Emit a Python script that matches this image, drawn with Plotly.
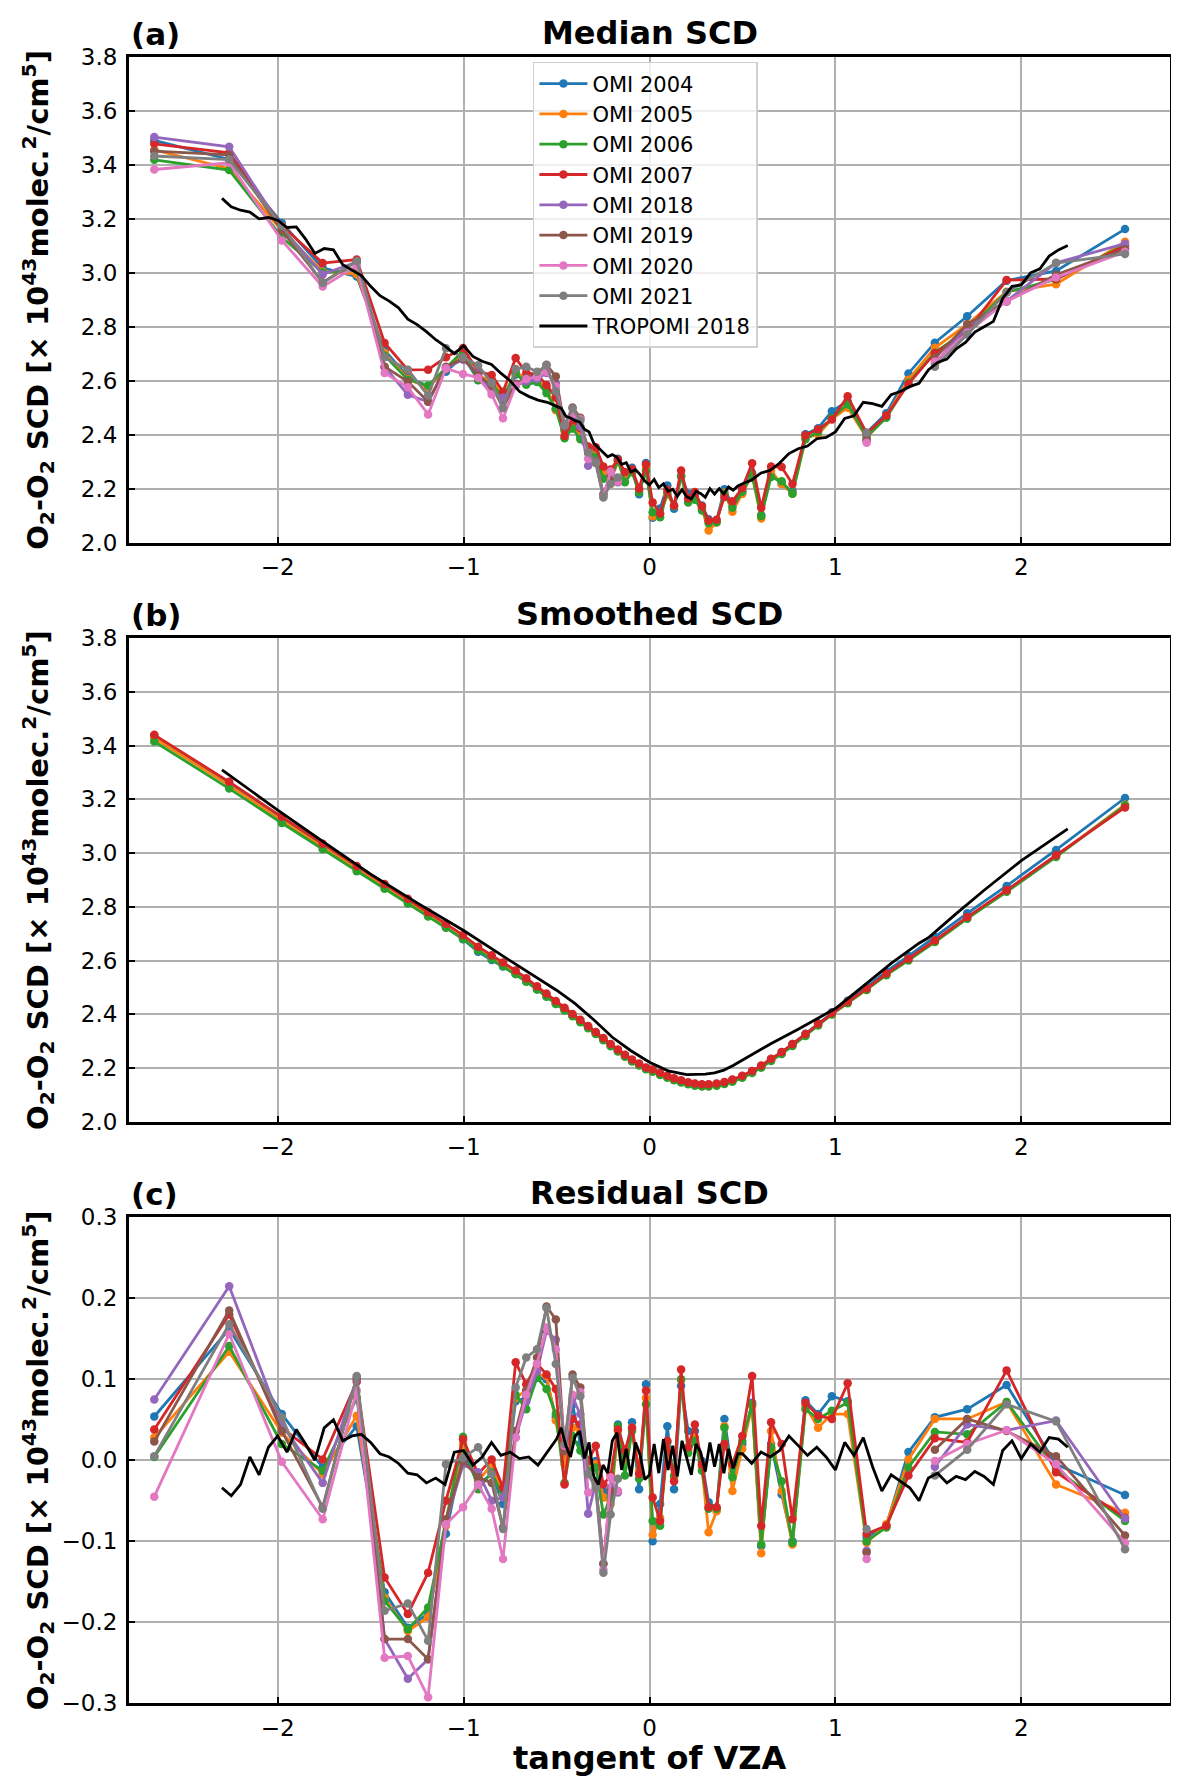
import plotly.graph_objects as go

# tangent of VZA for the 60 OMI cross-track rows
omi_x = [-2.664, -2.261, -1.978, -1.758, -1.575, -1.425, -1.300, -1.191, -1.095, -1.003,
         -0.922, -0.849, -0.788, -0.720, -0.663, -0.605, -0.554, -0.504, -0.457, -0.414,
         -0.372, -0.330, -0.289, -0.248, -0.209, -0.170, -0.132, -0.094, -0.056, -0.019,
         0.017, 0.057, 0.096, 0.132, 0.170, 0.208, 0.244, 0.282, 0.318, 0.361,
         0.403, 0.446, 0.499, 0.552, 0.601, 0.654, 0.711, 0.769, 0.839, 0.907,
         0.981, 1.066, 1.168, 1.274, 1.393, 1.535, 1.709, 1.921, 2.187, 2.558]

N = None  # rows lost to the row anomaly

# (a) median SCD
med_2004 = [3.491, 3.420, 3.185, 3.018, 2.986, 2.713, 2.613, 2.579, 2.633, 2.692,
            2.603, 2.585, 2.524, 2.623, 2.600, 2.596, 2.568, 2.494, 2.416, 2.464,
            2.393, 2.342, 2.329, 2.270, 2.245, 2.311, 2.255, 2.277, 2.179, 2.295,
            2.092, 2.126, 2.212, 2.125, 2.245, 2.182, 2.177, 2.137, 2.086, 2.081,
            2.198, 2.139, 2.190, 2.259, 2.102, 2.253, 2.217, 2.190, 2.402, 2.424,
            2.487, 2.524, 2.407, 2.479, 2.627, 2.741, 2.839, 2.971, 3.007, 3.162]
med_2005 = [3.456, 3.386, 3.156, 3.005, 2.995, 2.703, 2.607, 2.574, 2.644, 2.703,
            2.615, 2.604, 2.541, 2.630, 2.611, 2.602, 2.573, 2.491, 2.413, 2.435,
            2.409, 2.346, 2.324, 2.260, 2.230, 2.300, 2.244, 2.267, 2.199, 2.275,
            2.097, 2.106, 2.178, 2.136, 2.248, 2.154, 2.165, 2.125, 2.045, 2.074,
            2.185, 2.114, 2.180, 2.251, 2.089, 2.265, 2.217, 2.181, 2.389, 2.401,
            2.458, 2.500, 2.390, 2.469, 2.604, 2.722, 2.809, 2.930, 2.958, 3.115]
med_2006 = [3.419, 3.381, 3.132, 3.001, 3.010, 2.693, 2.604, 2.582, 2.647, 2.710,
            2.602, 2.591, 2.534, 2.631, 2.585, 2.595, 2.554, 2.496, 2.387, 2.423,
            2.383, 2.336, 2.318, 2.237, 2.236, 2.304, 2.224, 2.261, 2.187, 2.265,
            2.112, 2.094, 2.186, 2.136, 2.247, 2.149, 2.159, 2.119, 2.072, 2.075,
            2.181, 2.129, 2.188, 2.251, 2.098, 2.243, 2.227, 2.181, 2.383, 2.410,
            2.461, 2.513, 2.391, 2.463, 2.592, 2.704, 2.788, 2.928, 2.975, 3.103]
med_2007 = [3.478, 3.445, 3.175, 3.036, 3.049, 2.740, 2.640, 2.641, 2.687, 2.721,
            2.635, 2.621, 2.559, 2.684, 2.629, 2.624, 2.584, 2.538, 2.395, 2.453,
            2.424, 2.356, 2.353, 2.282, 2.271, 2.308, 2.262, 2.272, 2.200, 2.289,
            2.149, 2.108, 2.196, 2.137, 2.267, 2.164, 2.187, 2.135, 2.082, 2.085,
            2.169, 2.153, 2.202, 2.294, 2.129, 2.282, 2.280, 2.217, 2.398, 2.420,
            2.456, 2.542, 2.405, 2.471, 2.588, 2.702, 2.784, 2.973, 2.977, 3.099]
med_2018 = [3.503, 3.467, 3.166, 2.994, 3.040, 2.652, 2.548, 2.522, 2.648, 2.678,
            2.626, 2.559, 2.537, 2.581, 2.598, 2.606, 2.629, 2.591, 2.430, 2.472,
            2.430, 2.285, 2.301, 2.178, 2.250, 2.224, N, N, N, N,
            N, N, N, N, N, N, N, N, N, N,
            N, N, N, N, N, N, N, N, N, N,
            N, N, 2.380, N, N, 2.663, 2.802, 2.895, 3.037, 3.108]
med_2019 = [3.451, 3.437, 3.158, 2.964, 3.042, 2.652, 2.597, 2.522, 2.652, 2.682,
            2.620, 2.581, 2.500, 2.589, 2.611, 2.623, 2.659, 2.616, 2.430, 2.501,
            2.463, 2.334, 2.299, 2.178, 2.246, 2.226, N, N, N, N,
            N, N, N, N, N, N, N, N, N, N,
            N, N, N, N, N, N, N, N, N, N,
            N, N, 2.378, N, N, 2.684, 2.809, 2.894, 2.993, 3.087]
med_2020 = [3.383, 3.408, 3.120, 2.949, 3.026, 2.629, 2.576, 2.475, 2.646, 2.625,
            2.611, 2.549, 2.461, 2.581, 2.606, 2.615, 2.633, 2.579, 2.436, 2.476,
            2.457, 2.311, 2.295, 2.171, 2.263, 2.226, N, N, N, N,
            N, N, N, N, N, N, N, N, N, N,
            N, N, N, N, N, N, N, N, N, N,
            N, N, 2.370, N, N, 2.670, 2.778, 2.895, 2.983, 3.078]
med_2021 = [3.433, 3.420, 3.175, 2.962, 3.044, 2.687, 2.641, 2.545, 2.720, 2.686,
            2.657, 2.592, 2.498, 2.643, 2.652, 2.633, 2.657, 2.561, 2.438, 2.497,
            2.452, 2.334, 2.295, 2.167, 2.217, 2.241, N, N, N, N,
            N, N, N, N, N, N, N, N, N, N,
            N, N, N, N, N, N, N, N, N, N,
            N, N, 2.407, N, N, 2.652, 2.771, 2.927, 3.036, 3.070]

# (b) smoothed SCD
smo_2004 = [3.437, 3.258, 3.128, 3.027, 2.944, 2.876, 2.820, 2.769, 2.724, 2.680,
            2.633, 2.602, 2.578, 2.550, 2.523, 2.494, 2.468, 2.441, 2.417, 2.395,
            2.373, 2.351, 2.330, 2.308, 2.287, 2.267, 2.248, 2.230, 2.215, 2.201,
            2.192, 2.180, 2.170, 2.161, 2.153, 2.146, 2.141, 2.138, 2.138, 2.141,
            2.147, 2.156, 2.170, 2.188, 2.208, 2.233, 2.259, 2.290, 2.328, 2.367,
            2.408, 2.451, 2.502, 2.560, 2.617, 2.688, 2.776, 2.878, 3.012, 3.205]
smo_2005 = [3.428, 3.252, 3.122, 3.022, 2.940, 2.873, 2.818, 2.768, 2.725, 2.683,
            2.641, 2.609, 2.583, 2.553, 2.525, 2.496, 2.469, 2.442, 2.418, 2.395,
            2.373, 2.351, 2.329, 2.306, 2.284, 2.264, 2.245, 2.227, 2.212, 2.198,
            2.189, 2.177, 2.166, 2.157, 2.149, 2.142, 2.137, 2.134, 2.134, 2.137,
            2.143, 2.152, 2.166, 2.184, 2.204, 2.229, 2.255, 2.285, 2.322, 2.361,
            2.401, 2.443, 2.492, 2.548, 2.603, 2.671, 2.758, 2.858, 2.988, 3.180]
smo_2006 = [3.415, 3.240, 3.112, 3.014, 2.933, 2.867, 2.813, 2.764, 2.722, 2.681,
            2.638, 2.606, 2.580, 2.550, 2.522, 2.493, 2.466, 2.439, 2.415, 2.393,
            2.371, 2.349, 2.327, 2.304, 2.282, 2.262, 2.243, 2.225, 2.210, 2.196,
            2.187, 2.175, 2.164, 2.155, 2.147, 2.140, 2.135, 2.132, 2.132, 2.135,
            2.141, 2.150, 2.164, 2.182, 2.202, 2.227, 2.253, 2.283, 2.320, 2.359,
            2.400, 2.442, 2.491, 2.546, 2.601, 2.669, 2.756, 2.856, 2.986, 3.178]
smo_2007 = [3.440, 3.265, 3.135, 3.035, 2.952, 2.885, 2.830, 2.780, 2.737, 2.695,
            2.652, 2.620, 2.593, 2.563, 2.535, 2.505, 2.478, 2.450, 2.425, 2.402,
            2.380, 2.357, 2.335, 2.312, 2.290, 2.270, 2.250, 2.232, 2.217, 2.203,
            2.195, 2.183, 2.172, 2.163, 2.155, 2.148, 2.143, 2.140, 2.140, 2.143,
            2.149, 2.158, 2.172, 2.190, 2.210, 2.235, 2.260, 2.290, 2.327, 2.365,
            2.405, 2.447, 2.496, 2.552, 2.607, 2.675, 2.762, 2.862, 2.992, 3.170]

# (c) residual SCD
res_2004 = [0.054, 0.162, 0.057, -0.009, 0.042, -0.163, -0.207, -0.190, -0.091, 0.012,
            -0.030, -0.017, -0.054, 0.073, 0.077, 0.102, 0.100, 0.053, -0.001, 0.069,
            0.020, -0.009, -0.001, -0.038, -0.042, 0.044, 0.007, 0.047, -0.036, 0.094,
            -0.100, -0.054, 0.042, -0.036, 0.092, 0.036, 0.036, -0.001, -0.052, -0.060,
            0.051, -0.017, 0.020, 0.071, -0.106, 0.020, -0.042, -0.100, 0.074, 0.057,
            0.079, 0.073, -0.095, -0.081, 0.010, 0.053, 0.063, 0.093, -0.005, -0.043]
res_2005 = [0.028, 0.134, 0.034, -0.017, 0.055, -0.170, -0.211, -0.194, -0.081, 0.020,
            -0.026, -0.005, -0.042, 0.077, 0.086, 0.106, 0.104, 0.049, -0.005, 0.040,
            0.036, -0.005, -0.005, -0.046, -0.054, 0.036, -0.001, 0.040, -0.013, 0.077,
            -0.092, -0.071, 0.012, -0.021, 0.099, 0.012, 0.028, -0.009, -0.089, -0.063,
            0.042, -0.038, 0.014, 0.067, -0.115, 0.036, -0.038, -0.104, 0.067, 0.040,
            0.057, 0.057, -0.102, -0.079, 0.001, 0.051, 0.051, 0.072, -0.030, -0.065]
res_2006 = [0.004, 0.141, 0.020, -0.013, 0.077, -0.174, -0.209, -0.182, -0.075, 0.029,
            -0.036, -0.015, -0.046, 0.081, 0.063, 0.102, 0.088, 0.057, -0.028, 0.030,
            0.012, -0.013, -0.009, -0.067, -0.046, 0.042, -0.019, 0.036, -0.023, 0.069,
            -0.075, -0.081, 0.022, -0.019, 0.100, 0.009, 0.024, -0.013, -0.060, -0.060,
            0.040, -0.021, 0.024, 0.069, -0.104, 0.016, -0.026, -0.102, 0.063, 0.051,
            0.061, 0.071, -0.100, -0.083, -0.009, 0.035, 0.032, 0.072, -0.011, -0.075]
res_2007 = [0.038, 0.180, 0.040, 0.001, 0.097, -0.145, -0.190, -0.139, -0.050, 0.026,
            -0.017, 0.001, -0.034, 0.121, 0.094, 0.119, 0.106, 0.088, -0.030, 0.051,
            0.044, -0.001, 0.018, -0.030, -0.019, 0.038, 0.012, 0.040, -0.017, 0.086,
            -0.046, -0.075, 0.024, -0.026, 0.112, 0.016, 0.044, -0.005, -0.058, -0.058,
            0.020, -0.005, 0.030, 0.104, -0.081, 0.047, 0.020, -0.073, 0.071, 0.055,
            0.051, 0.095, -0.091, -0.081, -0.019, 0.027, 0.022, 0.111, -0.015, -0.071]
res_2018 = [0.075, 0.215, 0.044, -0.028, 0.100, -0.221, -0.270, -0.246, -0.077, -0.005,
            -0.015, -0.050, -0.046, 0.028, 0.073, 0.110, 0.160, 0.149, 0.012, 0.077,
            0.057, -0.066, -0.028, -0.128, -0.034, -0.040, N, N, N, N,
            N, N, N, N, N, N, N, N, N, N,
            N, N, N, N, N, N, N, N, N, N,
            N, N, -0.112, N, N, -0.008, 0.044, 0.037, 0.049, -0.072]
res_2019 = [0.023, 0.185, 0.036, -0.058, 0.102, -0.221, -0.221, -0.246, -0.073, -0.001,
            -0.021, -0.028, -0.083, 0.036, 0.086, 0.127, 0.190, 0.174, 0.012, 0.106,
            0.090, -0.017, -0.030, -0.128, -0.038, -0.038, N, N, N, N,
            N, N, N, N, N, N, N, N, N, N,
            N, N, N, N, N, N, N, N, N, N,
            N, N, -0.114, N, N, 0.013, 0.051, 0.036, 0.005, -0.093]
res_2020 = [-0.045, 0.156, -0.002, -0.073, 0.086, -0.244, -0.242, -0.293, -0.079, -0.058,
            -0.030, -0.060, -0.122, 0.028, 0.081, 0.119, 0.164, 0.137, 0.018, 0.081,
            0.084, -0.040, -0.034, -0.135, -0.021, -0.038, N, N, N, N,
            N, N, N, N, N, N, N, N, N, N,
            N, N, N, N, N, N, N, N, N, N,
            N, N, -0.122, N, N, -0.001, 0.020, 0.037, -0.005, -0.102]
res_2021 = [0.005, 0.168, 0.053, -0.060, 0.104, -0.186, -0.177, -0.223, -0.005, 0.003,
            0.016, -0.017, -0.085, 0.090, 0.127, 0.137, 0.188, 0.119, 0.020, 0.102,
            0.079, -0.017, -0.034, -0.139, -0.067, -0.023, N, N, N, N,
            N, N, N, N, N, N, N, N, N, N,
            N, N, N, N, N, N, N, N, N, N,
            N, N, -0.085, N, N, -0.019, 0.013, 0.069, 0.048, -0.110]

# TROPOMI 2018
trop_x = [-2.30, -2.25, -2.20, -2.15, -2.10, -2.05, -2.00, -1.95, -1.90, -1.85,
          -1.80, -1.75, -1.70, -1.65, -1.60, -1.55, -1.50, -1.45, -1.40, -1.35,
          -1.30, -1.25, -1.20, -1.15, -1.10, -1.05, -1.00, -0.95, -0.90, -0.85,
          -0.80, -0.75, -0.70, -0.65, -0.60, -0.55, -0.50,
          -0.475, -0.45, -0.425, -0.40, -0.375, -0.35, -0.325, -0.30, -0.275, -0.25,
          -0.225, -0.20, -0.175, -0.15, -0.125, -0.10, -0.075, -0.05, -0.025, 0.00,
          0.025, 0.05, 0.075, 0.10, 0.125, 0.15, 0.175, 0.20, 0.225, 0.25,
          0.275, 0.30, 0.325, 0.35, 0.375, 0.40, 0.425, 0.45, 0.475,
          0.50, 0.55, 0.60, 0.65, 0.70, 0.75, 0.80, 0.85, 0.90, 0.95,
          1.00, 1.05, 1.10, 1.15, 1.20, 1.25, 1.30, 1.35, 1.40, 1.45,
          1.50, 1.55, 1.60, 1.65, 1.70, 1.75, 1.80, 1.85, 1.90, 1.95,
          2.00, 2.05, 2.10, 2.15, 2.20, 2.25]
trop_med = [3.276, 3.245, 3.232, 3.225, 3.200, 3.205, 3.195, 3.168, 3.170, 3.125,
            3.072, 3.090, 3.085, 3.030, 3.010, 2.990, 2.950, 2.915, 2.895, 2.870,
            2.828, 2.808, 2.782, 2.752, 2.728, 2.700, 2.730, 2.690, 2.672, 2.660,
            2.628, 2.600, 2.560, 2.542, 2.528, 2.520, 2.505,
            2.498, 2.468, 2.462, 2.452, 2.446, 2.420, 2.410, 2.368, 2.352, 2.334,
            2.318, 2.326, 2.316, 2.290, 2.296, 2.262, 2.270, 2.252, 2.228, 2.214,
            2.234, 2.204, 2.218, 2.190, 2.198, 2.172, 2.196, 2.170, 2.162, 2.190,
            2.182, 2.168, 2.200, 2.180, 2.200, 2.180, 2.206, 2.194, 2.210,
            2.218, 2.232, 2.258, 2.268, 2.295, 2.330, 2.348, 2.358, 2.385, 2.390,
            2.410, 2.460, 2.470, 2.520, 2.515, 2.505, 2.548, 2.560, 2.578, 2.590,
            2.640, 2.668, 2.680, 2.718, 2.742, 2.780, 2.800, 2.820, 2.905, 2.950,
            2.955, 3.000, 3.015, 3.062, 3.085, 3.101]
trop_res = [-0.034, -0.044, -0.030, 0.004, -0.018, 0.016, 0.030, 0.010, 0.038, 0.020,
            0.000, 0.040, 0.050, 0.024, 0.030, 0.032, 0.022, 0.008, 0.004, -0.004,
            -0.016, -0.018, -0.028, -0.022, -0.030, 0.010, 0.012, -0.006, 0.004, 0.022,
            0.006, 0.010, 0.002, 0.004, -0.006, 0.010, 0.026,
            0.040, 0.018, 0.004, 0.030, 0.036, 0.002, 0.022, -0.020, -0.030, -0.006,
            -0.016, 0.024, 0.034, -0.012, 0.014, -0.020, 0.022, 0.006, -0.024, -0.018,
            0.020, -0.016, 0.026, -0.012, 0.018, -0.020, 0.024, 0.004, -0.018, 0.020,
            0.010, -0.014, 0.022, -0.008, 0.020, -0.016, 0.014, -0.010, 0.008,
            0.008, -0.004, 0.010, 0.004, 0.012, 0.030, 0.018, 0.006, 0.016, 0.004,
            -0.012, 0.022, 0.006, 0.028, -0.008, -0.038, -0.018, -0.026, -0.034, -0.050,
            -0.022, -0.016, -0.028, -0.020, -0.024, -0.014, -0.020, -0.030, 0.012, 0.024,
            0.002, 0.020, 0.010, 0.028, 0.026, 0.016]
trop_smo_x = [-2.30, -2.0, -1.75, -1.5, -1.25, -1.0, -0.75, -0.6, -0.5, -0.4,
              -0.3, -0.2, -0.1, 0.0, 0.1, 0.2, 0.3, 0.35, 0.4, 0.45,
              0.5, 0.65, 0.8, 1.0, 1.15, 1.3, 1.45, 1.5, 1.65, 1.8,
              2.0, 2.25]
trop_smo = [3.310, 3.160, 3.040, 2.922, 2.815, 2.712, 2.600, 2.535, 2.490, 2.440,
            2.380, 2.315, 2.265, 2.222, 2.190, 2.176, 2.178, 2.183, 2.193, 2.210,
            2.230, 2.290, 2.345, 2.422, 2.505, 2.590, 2.665, 2.685, 2.775, 2.862,
            2.972, 3.090]

years = ["2004", "2005", "2006", "2007", "2018", "2019", "2020", "2021"]
colors = ["#1f77b4", "#ff7f0e", "#2ca02c", "#d62728",
          "#9467bd", "#8c564b", "#e377c2", "#7f7f7f"]
medians = [med_2004, med_2005, med_2006, med_2007, med_2018, med_2019, med_2020, med_2021]
smooths = [smo_2004, smo_2005, smo_2006, smo_2007]
resids = [res_2004, res_2005, res_2006, res_2007, res_2018, res_2019, res_2020, res_2021]

FONT = "DejaVu Sans"
fig = go.Figure()


def omi_trace(y, i, xa, ya, legend):
    return go.Scatter(x=omi_x, y=y, mode="lines+markers", name="OMI " + years[i],
                      line=dict(color=colors[i], width=2.8),
                      marker=dict(color=colors[i], size=8.5),
                      xaxis=xa, yaxis=ya, showlegend=legend)


for i, y in enumerate(medians):
    fig.add_trace(omi_trace(y, i, "x", "y", True))
fig.add_trace(go.Scatter(x=trop_x, y=trop_med, mode="lines", name="TROPOMI 2018",
                         line=dict(color="black", width=2.8), xaxis="x", yaxis="y"))

for i, y in enumerate(smooths):
    fig.add_trace(omi_trace(y, i, "x2", "y2", False))
fig.add_trace(go.Scatter(x=trop_smo_x, y=trop_smo, mode="lines", line=dict(color="black", width=2.8),
                         xaxis="x2", yaxis="y2", showlegend=False))

for i, y in enumerate(resids):
    fig.add_trace(omi_trace(y, i, "x3", "y3", False))
fig.add_trace(go.Scatter(x=trop_x, y=trop_res, mode="lines", line=dict(color="black", width=2.8),
                         xaxis="x3", yaxis="y3", showlegend=False))

tick_font = dict(family=FONT, size=23, color="black")
ytitle = ("<b>O<sub>2</sub>-O<sub>2</sub> SCD [× 10<sup>43</sup>"
          "molec.<sup>2</sup>/cm<sup>5</sup>]</b>")

axis_common = dict(showline=True, linewidth=3, linecolor="black", mirror=True,
                   showgrid=True, gridcolor="#b0b0b0", gridwidth=1.6,
                   ticks="inside", ticklen=6, tickwidth=1.5, tickcolor="black",
                   tickfont=tick_font, zeroline=False, automargin=False)

domains = [[0.705, 1.0], [0.353, 0.647], [0.0, 0.295]]
xnames = ["xaxis", "xaxis2", "xaxis3"]
ynames = ["yaxis", "yaxis2", "yaxis3"]
yranges = [[2.0, 3.8], [2.0, 3.8], [-0.3, 0.3]]
ytickvals = [[2.0, 2.2, 2.4, 2.6, 2.8, 3.0, 3.2, 3.4, 3.6, 3.8],
             [2.0, 2.2, 2.4, 2.6, 2.8, 3.0, 3.2, 3.4, 3.6, 3.8],
             [-0.3, -0.2, -0.1, 0.0, 0.1, 0.2, 0.3]]
titles = ["Median SCD", "Smoothed SCD", "Residual SCD"]
labels = ["(a)", "(b)", "(c)"]
anchors = ["y", "y2", "y3"]
xanchors = ["x", "x2", "x3"]

layout = {}
annotations = []
for k in range(3):
    layout[xnames[k]] = dict(axis_common, domain=[0, 1], range=[-2.8, 2.8],
                             tickvals=[-2, -1, 0, 1, 2], anchor=anchors[k],
                             ticklabelstandoff=2)
    layout[ynames[k]] = dict(axis_common, domain=domains[k], range=yranges[k],
                             tickvals=ytickvals[k], tickformat=".1f", anchor=xanchors[k],
                             ticklabelstandoff=4)
    annotations.append(dict(text="<b>" + titles[k] + "</b>", x=0.5, y=domains[k][1],
                            xref="paper", yref="paper", xanchor="center", yanchor="bottom",
                            yshift=3, showarrow=False,
                            font=dict(family=FONT, size=32, color="black")))
    annotations.append(dict(text="<b>" + labels[k] + "</b>", x=0.0, y=domains[k][1],
                            xref="paper", yref="paper", xanchor="left", yanchor="bottom",
                            yshift=3, showarrow=False,
                            font=dict(family=FONT, size=31, color="black")))
    annotations.append(dict(text=ytitle, x=-0.0874, y=(domains[k][0] + domains[k][1]) / 2,
                            xref="paper", yref="paper", xanchor="center", yanchor="middle",
                            textangle=-90, showarrow=False,
                            font=dict(family=FONT, size=29, color="black")))

annotations.append(dict(text="<b>tangent of VZA</b>", x=0.5, y=0.0, xref="paper", yref="paper",
                        xanchor="center", yanchor="middle", yshift=-55, showarrow=False,
                        font=dict(family=FONT, size=32, color="black")))

fig.update_layout(**layout)
fig.update_layout(
    width=1179, height=1781,
    margin=dict(l=121, r=17, t=49, b=86, autoexpand=False),
    paper_bgcolor="white", plot_bgcolor="white",
    annotations=annotations,
    font=dict(family=FONT, color="black"),
    legend=dict(x=0.388, y=0.997, xanchor="left", yanchor="top",
                bgcolor="rgba(255,255,255,0.8)", bordercolor="#d0d0d0", borderwidth=1.5,
                font=dict(family=FONT, size=21, color="black"),
                itemwidth=48, tracegroupgap=0),
)

fig.write_html("out.html")
